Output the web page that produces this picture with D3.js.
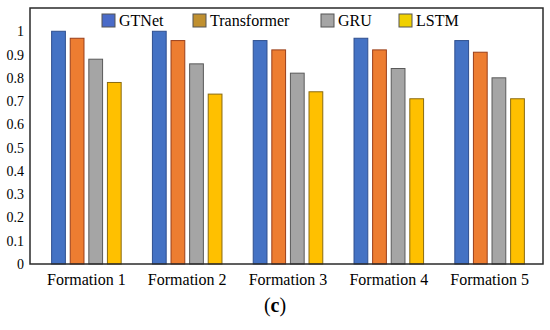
<!DOCTYPE html>
<html>
<head>
<meta charset="utf-8">
<script src="https://d3js.org/d3.v7.min.js"></script>
<style>
  html, body { margin: 0; padding: 0; background: #fff; }
  svg { display: block; }
</style>
</head>
<body>
<div id="chart"></div>
<script>
// data
var formations = ["Formation 1", "Formation 2", "Formation 3", "Formation 4", "Formation 5"];
var models = ["GTNet", "Transformer", "GRU", "LSTM"];
var gtnet = [1.0, 1.0, 0.96, 0.97, 0.96];
var transformer = [0.97, 0.96, 0.92, 0.92, 0.91];
var gru = [0.88, 0.86, 0.82, 0.84, 0.80];
var lstm = [0.78, 0.73, 0.74, 0.71, 0.71];
var yTicks = [0, 0.1, 0.2, 0.3, 0.4, 0.5, 0.6, 0.7, 0.8, 0.9, 1];

var series = [gtnet, transformer, gru, lstm];
var fills = ["#4472C4", "#ED7D31", "#A5A5A5", "#FFC000"];
var strokes = ["#2F4F8F", "#9A3F1A", "#5A5A5A", "#8A6A10"];
var legendFills = ["#4A6BC8", "#C09030", "#A5A5A5", "#F0D000"];

var W = 550, H = 330;
var plotL = 30, plotR = 543, plotT = 8, plotB = 264;
var FONT = "Liberation Serif";

var svg = d3.select("#chart").append("svg")
    .attr("width", W).attr("height", H)
    .attr("font-family", FONT);

var y = d3.scaleLinear().domain([0, 1.1]).range([plotB, plotT]);
var x0 = d3.scaleBand().domain(formations).range([36, 540]).paddingInner(0.31).paddingOuter(0.155);
var x1 = d3.scaleBand().domain(models).range([0, x0.bandwidth()]).paddingInner(0.26);

// bars
var groups = svg.selectAll("g.grp")
    .data(formations)
    .enter().append("g")
    .attr("class", "grp")
    .attr("transform", function(d) { return "translate(" + x0(d) + ",0)"; });

groups.selectAll("rect")
    .data(function(d, i) {
        return models.map(function(m, k) { return {model: m, k: k, v: series[k][i]}; });
    })
    .enter().append("rect")
    .attr("x", function(d) { return x1(d.model); })
    .attr("y", function(d) { return y(d.v); })
    .attr("width", x1.bandwidth())
    .attr("height", function(d) { return plotB - y(d.v); })
    .attr("fill", function(d) { return fills[d.k]; })
    .attr("stroke", function(d) { return strokes[d.k]; })
    .attr("stroke-width", 1);

// frame
svg.append("rect")
    .attr("x", plotL).attr("y", plotT)
    .attr("width", plotR - plotL).attr("height", plotB - plotT)
    .attr("fill", "none").attr("stroke", "#2a2a2a").attr("stroke-width", 1.5);

// y axis labels
var yAxis = d3.axisLeft(y).tickValues(yTicks).tickSize(0).tickPadding(6)
    .tickFormat(function(d) { return d === 0 || d === 1 ? String(d) : d3.format(".1f")(d); });
var ya = svg.append("g").attr("transform", "translate(" + plotL + ",0)").call(yAxis);
ya.attr("font-family", FONT).attr("font-size", 14);
ya.select(".domain").remove();

// x axis labels
var xAxis = d3.axisBottom(x0).tickSize(0).tickPadding(10);
var xa = svg.append("g").attr("transform", "translate(0," + plotB + ")").call(xAxis);
xa.attr("font-family", FONT).attr("font-size", 16);
xa.select(".domain").remove();

// legend
var legendX = [102, 193, 321, 399];
var leg = svg.selectAll("g.leg")
    .data(models)
    .enter().append("g")
    .attr("class", "leg")
    .attr("transform", function(d, i) { return "translate(" + legendX[i] + ",14)"; });
leg.append("rect")
    .attr("width", 13).attr("height", 13)
    .attr("fill", function(d, i) { return legendFills[i]; })
    .attr("stroke", "#555").attr("stroke-width", 1);
leg.append("text")
    .attr("x", 17).attr("y", 11.5)
    .attr("font-size", 16)
    .text(function(d) { return d; });

// panel label
var lab = svg.append("text")
    .attr("x", W / 2).attr("y", 312)
    .attr("text-anchor", "middle")
    .attr("font-size", 20);
lab.append("tspan").text("(");
lab.append("tspan").attr("font-weight", "bold").text("c");
lab.append("tspan").text(")");

svg.selectAll("text")
    .attr("font-family", FONT)
    .attr("fill", "#000");
</script>
</body>
</html>
